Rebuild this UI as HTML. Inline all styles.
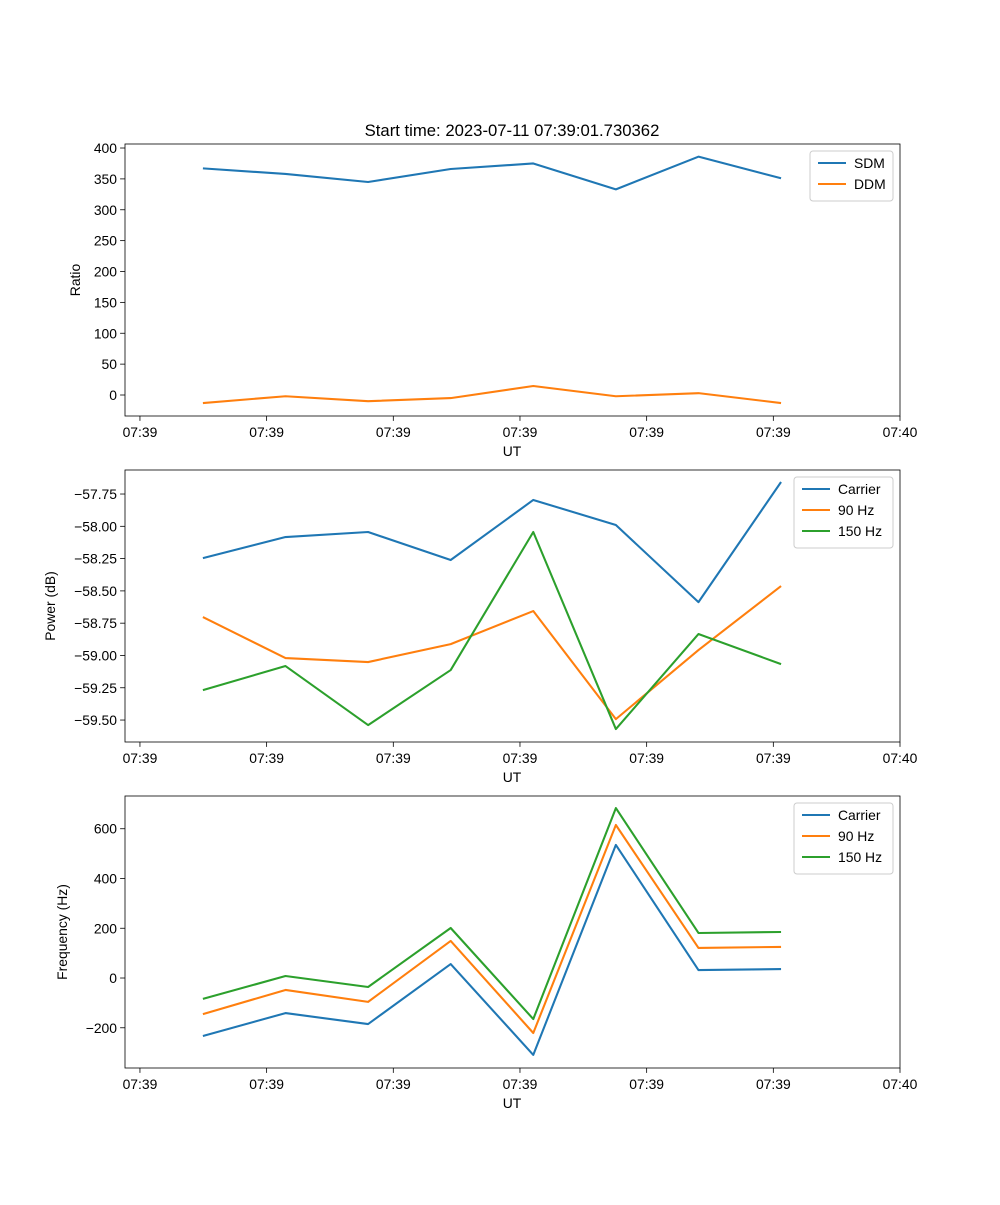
<!DOCTYPE html>
<html><head><meta charset="utf-8"><style>
body{margin:0;background:#fff}
svg text{font-family:"Liberation Sans","DejaVu Sans",sans-serif;font-size:13.9px;fill:#000}
</style></head><body>
<svg id="fig" width="1000" height="1200" xmlns="http://www.w3.org/2000/svg">
<rect width="1000" height="1200" fill="#fff"/>
<text x="512" y="136" text-anchor="middle" style="font-size:16.7px">Start time: 2023-07-11 07:39:01.730362</text>
</svg>
<script>
const xTickLabels=["07:39","07:39","07:39","07:39","07:39","07:39","07:40"];
const sampleTimes=[0.497,1.149,1.801,2.453,3.105,3.757,4.409,5.061];
const sdm=[367,358,345,366,375,333,386,351];
const ddm=[-13,-2,-10,-5,14.6,-2,3,-13];
const powCarrier=[-58.246,-58.083,-58.044,-58.261,-57.796,-57.990,-58.587,-57.657];
const pow90=[-58.703,-59.020,-59.051,-58.912,-58.656,-59.493,-58.958,-58.463];
const pow150=[-59.268,-59.082,-59.539,-59.113,-58.044,-59.570,-58.834,-59.067];
const frqCarrier=[-233,-141,-185,56,-309,535,32,36];
const frq90=[-145,-48,-96,149,-221,615,121,125];
const frq150=[-84,8,-36,201,-165,683,181,185];
const ratioTicks=[0,50,100,150,200,250,300,350,400];
const powerTicks=[-59.5,-59.25,-59.0,-58.75,-58.5,-58.25,-58.0,-57.75];
const freqTicks=[-200,0,200,400,600];

const NS="http://www.w3.org/2000/svg",svg=document.getElementById('fig');
function mk(t,a,p){const e=document.createElementNS(NS,t);for(const k in a)e.setAttribute(k,a[k]);(p||svg).appendChild(e);return e;}
const L=125,R=900,tx0=-0.118,tx1=6;
const xs=t=>L+(t-tx0)/(tx1-tx0)*(R-L);
const C=["#1f77b4","#ff7f0e","#2ca02c"];
const fmtMinus=s=>s.replace('-','\u2212');
function panel(name,top,bot,ymin,ymax,yticks,fmt,ylabel,ylx,series,names,leg){
  const g=mk('g',{});
  
  
  const ys=v=>bot-(v-ymin)/(ymax-ymin)*(bot-top);
  yticks.forEach(v=>{const y=ys(v);
    mk('line',{x1:L-4.9,x2:L,y1:y,y2:y,stroke:'#000','stroke-width':0.8},g);
    const t=mk('text',{x:L-8,y:y+5,'text-anchor':'end'},g);t.textContent=fmtMinus(fmt(v));
    
    });
  xTickLabels.forEach((s,i)=>{const x=xs(i);
    mk('line',{x1:x,x2:x,y1:bot,y2:bot+4.9,stroke:'#000','stroke-width':0.8},g);
    const t=mk('text',{x:x,y:bot+21,'text-anchor':'middle'},g);t.textContent=s;
    
    });
  const xl=mk('text',{x:512,y:bot+40,'text-anchor':'middle'},g);xl.textContent='UT';
  
  
  const yl=mk('text',{x:ylx,y:(top+bot)/2,'text-anchor':'middle',transform:`rotate(-90 ${ylx} ${(top+bot)/2})`},g);yl.textContent=ylabel;
  
  
  series.forEach((s,k)=>{
    const p=mk('polyline',{points:s.map((v,i)=>xs(sampleTimes[i])+','+ys(v)).join(' '),fill:'none',stroke:C[k],'stroke-width':2.08,'stroke-linejoin':'round'},g);
    
    });
  mk('rect',{x:L,y:top,width:R-L,height:bot-top,fill:'none',stroke:'#000','stroke-width':0.8},g);
  const lg=mk('g',{},g);
  
  
  mk('rect',{x:leg[0],y:top+7,width:leg[1],height:names.length*21+8,rx:3,fill:'#fff',stroke:'#ccc','fill-opacity':0.8},lg);
  names.forEach((n,k)=>{const y=top+19+k*21;
    mk('line',{x1:leg[0]+8,x2:leg[0]+36,y1:y,y2:y,stroke:C[k],'stroke-width':2.08},lg);
    const t=mk('text',{x:leg[0]+44,y:y+5},lg);t.textContent=n;
    
    });
}
panel('ratio',144,416,-34,406.5,ratioTicks,v=>String(v),'Ratio',80,[sdm,ddm],['SDM','DDM'],[810,83]);
panel('power',470,742,-59.67,-57.564,powerTicks,v=>v.toFixed(2),'Power (dB)',55,[powCarrier,pow90,pow150],['Carrier','90 Hz','150 Hz'],[794,99]);
panel('frequency',796,1068,-361.7,731.6,freqTicks,v=>String(v),'Frequency (Hz)',67,[frqCarrier,frq90,frq150],['Carrier','90 Hz','150 Hz'],[794,99]);
</script>
</body></html>
